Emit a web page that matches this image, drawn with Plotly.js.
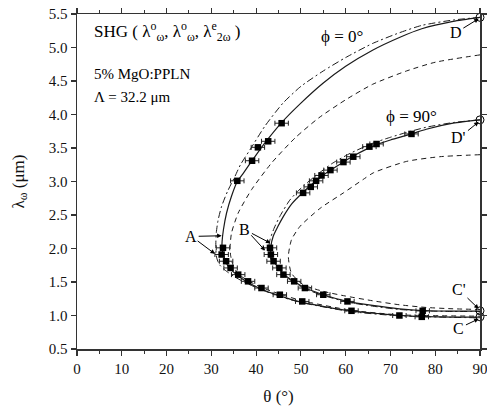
<!DOCTYPE html>
<html>
<head>
<meta charset="utf-8">
<script src="https://cdn.plot.ly/plotly-3.0.1.min.js"></script>
<style>html,body{margin:0;padding:0;background:#fff;}#chart{width:487px;height:407px;}</style>
</head>
<body>
<div id="chart"></div>
<script>
// ---- measured data (theta in degrees, lambda in micrometres) ----
const theta0Up = [35.8, 39.1, 40.4, 42.7, 45.7];
const lambda0Up = [3.01, 3.31, 3.51, 3.60, 3.87];
const theta0Low = [32.6, 32.3, 33.3, 34.3, 36.0, 38.2, 41.2, 45.3, 50.3, 61.3, 72.0, 77.0];
const lambda0Low = [2.01, 1.91, 1.81, 1.71, 1.61, 1.51, 1.41, 1.31, 1.21, 1.07, 1.00, 0.98];
const theta90Up = [50.5, 52.2, 53.4, 54.6, 56.6, 59.5, 61.7, 65.3, 66.9, 74.7];
const lambda90Up = [2.83, 2.92, 3.01, 3.09, 3.17, 3.29, 3.37, 3.52, 3.56, 3.71];
const theta90Low = [43.1, 43.3, 43.9, 45.2, 46.1, 48.5, 50.9, 55.0, 60.4, 77.2];
const lambda90Low = [2.01, 1.91, 1.81, 1.71, 1.61, 1.51, 1.41, 1.31, 1.21, 1.07];
const thetaErr = 1.5;

// ---- theoretical curves ----
const solid0Theta = [90, 84, 77, 72, 66, 60, 55, 50, 45.7, 42, 39.3, 37.2, 35.8, 34.5, 33.4, 32.7, 32.4, 32.4, 32.7, 33.2, 34.2, 35.8, 38, 41, 45, 50, 55.5, 61, 67, 72, 77, 84, 90];
const solid0Lambda = [5.45, 5.39, 5.28, 5.15, 4.96, 4.72, 4.47, 4.17, 3.88, 3.58, 3.33, 3.13, 3.0, 2.78, 2.53, 2.28, 2.1, 2.0, 1.9, 1.8, 1.7, 1.6, 1.5, 1.4, 1.3, 1.2, 1.13, 1.07, 1.03, 1.0, 0.985, 0.975, 0.975];
const dashdot0Theta = [90, 84, 77, 72, 66, 60, 55, 50, 46, 42, 38.6, 36.5, 35.3, 33.6, 32.3, 31.5, 31.1, 31.0, 31.2, 31.8, 33.0, 35.0, 37.6, 41, 45, 50, 61, 72, 90];
const dashdot0Lambda = [5.45, 5.41, 5.33, 5.22, 5.06, 4.85, 4.65, 4.42, 4.17, 3.83, 3.47, 3.25, 3.08, 2.85, 2.63, 2.42, 2.23, 2.0, 1.86, 1.76, 1.68, 1.585, 1.49, 1.39, 1.29, 1.195, 1.06, 0.995, 0.965];
const dash0Theta = [90, 80, 73.6, 66, 60, 54, 48.7, 43.5, 39.0, 36.0, 34.5, 34.2, 34.3, 34.8, 36.0, 38.2, 41.2, 45.3, 50.3, 61, 72, 90];
const dash0Lambda = [4.89, 4.78, 4.65, 4.45, 4.22, 3.95, 3.65, 3.28, 2.88, 2.53, 2.23, 2.03, 1.9, 1.76, 1.62, 1.52, 1.42, 1.32, 1.22, 1.08, 1.01, 0.99];
const solid90Theta = [90, 84, 78, 74.7, 70, 66.9, 61.7, 59.5, 56.6, 53.4, 50.5, 48, 46.1, 44.8, 43.8, 43.3, 43.3, 43.9, 45.0, 46.3, 48.4, 51, 55, 60.4, 66, 72, 77.2, 84, 90];
const solid90Lambda = [3.92, 3.87, 3.78, 3.71, 3.62, 3.55, 3.38, 3.29, 3.17, 3.01, 2.84, 2.67, 2.48, 2.32, 2.18, 2.03, 1.92, 1.81, 1.71, 1.61, 1.51, 1.41, 1.31, 1.21, 1.15, 1.10, 1.075, 1.065, 1.065];
const dashdot90Theta = [90, 84, 78, 74, 70, 66, 61, 57, 53, 50, 47.5, 45.3, 44, 43.1, 42.8, 43.1, 43.7, 45, 46.3, 48.4, 51, 55, 60.4, 66, 72, 77, 84, 90];
const dashdot90Lambda = [3.92, 3.88, 3.81, 3.74, 3.66, 3.57, 3.42, 3.27, 3.07, 2.9, 2.72, 2.48, 2.3, 2.13, 2.0, 1.88, 1.79, 1.69, 1.595, 1.495, 1.395, 1.30, 1.20, 1.14, 1.09, 1.07, 1.06, 1.06];
const dash90Theta = [90, 81, 73.6, 66.2, 63.9, 59.5, 54.3, 49.8, 47.9, 47.2, 47.9, 50.5, 55, 60, 66, 72, 78, 84, 90];
const dash90Lambda = [3.40, 3.37, 3.30, 3.13, 3.03, 2.83, 2.60, 2.33, 2.13, 1.88, 1.63, 1.46, 1.36, 1.29, 1.22, 1.16, 1.12, 1.10, 1.09];

// ---- end points at theta = 90 ----
const endTheta = [90, 90, 90, 90];
const endLambda = [5.45, 3.92, 1.07, 0.98];

// ---- axis ticks ----
const xTicks = [0, 10, 20, 30, 40, 50, 60, 70, 80, 90];
const yTicks = [0.5, 1.0, 1.5, 2.0, 2.5, 3.0, 3.5, 4.0, 4.5, 5.0, 5.5];

const SERIF = 'Liberation Serif, Times New Roman, serif';
const INK = '#1a1a1a';

function curve(x, y, dash, w) {
  return {x: x, y: y, mode: 'lines', type: 'scatter', hoverinfo: 'skip',
    line: {color: INK, width: w, dash: dash, shape: 'spline', smoothing: 0.6}};
}
function pts(x, y) {
  return {x: x, y: y, mode: 'markers', type: 'scatter',
    marker: {symbol: 'square', size: 6.5, color: '#000'},
    error_x: {type: 'constant', value: thetaErr, thickness: 1, width: 2.5, color: '#222'}};
}

const traces = [
  curve(dash0Theta, dash0Lambda, '5px,4px', 1),
  curve(dashdot0Theta, dashdot0Lambda, '7px,3px,2px,3px', 1),
  curve(solid0Theta, solid0Lambda, 'solid', 1.2),
  curve(dash90Theta, dash90Lambda, '5px,4px', 1),
  curve(dashdot90Theta, dashdot90Lambda, '7px,3px,2px,3px', 1),
  curve(solid90Theta, solid90Lambda, 'solid', 1.2),
  pts(theta0Up, lambda0Up),
  pts(theta0Low, lambda0Low),
  pts(theta90Up, lambda90Up),
  pts(theta90Low, lambda90Low),
  {x: endTheta, y: endLambda, mode: 'markers', type: 'scatter', cliponaxis: false,
    marker: {symbol: 'circle-open', size: 8, color: '#000', line: {width: 1, color: '#000'}}}
];

function arrow(x, y, ax, ay, text) {
  return {x: x, y: y, ax: ax, ay: ay, axref: 'x', ayref: 'y', xref: 'x', yref: 'y',
    text: text, showarrow: true, arrowhead: 2, arrowsize: 0.9, arrowwidth: 1, arrowcolor: '#000',
    standoff: 0, startstandoff: 0, font: {family: SERIF, size: 16, color: '#000'}};
}

const annotations = [
  {x: 3.3, y: 5.24, xref: 'x', yref: 'y', xanchor: 'left', yanchor: 'middle', showarrow: false,
    text: 'SHG ( λ<sup>o</sup><sub>ω</sub>, λ<sup>o</sup><sub>ω</sub>, λ<sup>e</sup><sub>2ω</sub> )',
    font: {family: SERIF, size: 17, color: '#000'}},
  {x: 3.3, y: 4.61, xref: 'x', yref: 'y', xanchor: 'left', yanchor: 'middle', showarrow: false,
    text: '5% MgO:PPLN', font: {family: SERIF, size: 15, color: '#000'}},
  {x: 3.3, y: 4.26, xref: 'x', yref: 'y', xanchor: 'left', yanchor: 'middle', showarrow: false,
    text: 'Λ = 32.2 μm', font: {family: SERIF, size: 15, color: '#000'}},
  {x: 59.2, y: 5.16, xref: 'x', yref: 'y', showarrow: false,
    text: 'ϕ = 0°', font: {family: SERIF, size: 17, color: '#000'}},
  {x: 74.8, y: 3.97, xref: 'x', yref: 'y', showarrow: false,
    text: 'ϕ = 90°', font: {family: SERIF, size: 17, color: '#000'}},
  arrow(32.3, 2.19, 25.5, 2.18, 'A'),
  arrow(30.8, 1.92, 26.6, 2.13, ''),
  arrow(43.2, 2.08, 37.5, 2.28, 'B'),
  arrow(42.0, 1.97, 38.6, 2.22, ''),
  arrow(89.7, 5.43, 84.6, 5.22, 'D'),
  arrow(89.7, 3.89, 85.3, 3.65, 'D\''),
  arrow(89.7, 1.10, 85.3, 1.385, 'C\''),
  arrow(89.7, 0.95, 85.3, 0.81, 'C')
];

const axisCommon = {
  showline: true, linecolor: '#333', linewidth: 1.5, mirror: 'ticks',
  ticks: 'outside', ticklen: 5, tickwidth: 1.2, tickcolor: '#333',
  showgrid: false, zeroline: false, ticklabeloverflow: 'allow',
  tickfont: {family: SERIF, size: 15, color: '#111'}
};

const layout = {
  width: 487, height: 407,
  margin: {l: 77, r: 7, t: 14, b: 58},
  paper_bgcolor: '#fff', plot_bgcolor: '#fff',
  showlegend: false,
  xaxis: Object.assign({}, axisCommon, {
    range: [0, 90], tickvals: xTicks, ticktext: xTicks.map(String),
    minor: {dtick: 5, ticks: 'outside', ticklen: 3, tickcolor: '#333', tickwidth: 1},
    title: {text: 'θ (°)', font: {family: SERIF, size: 17, color: '#111'}, standoff: 14}
  }),
  yaxis: Object.assign({}, axisCommon, {
    range: [0.5, 5.5], tickvals: yTicks, ticktext: yTicks.map(v => v.toFixed(1)),
    title: {text: 'λ<sub>ω</sub> (μm)', font: {family: SERIF, size: 17, color: '#111'}, standoff: 20}
  }),
  annotations: annotations
};

Plotly.newPlot('chart', traces, layout, {staticPlot: true, displayModeBar: false});
</script>
</body>
</html>
